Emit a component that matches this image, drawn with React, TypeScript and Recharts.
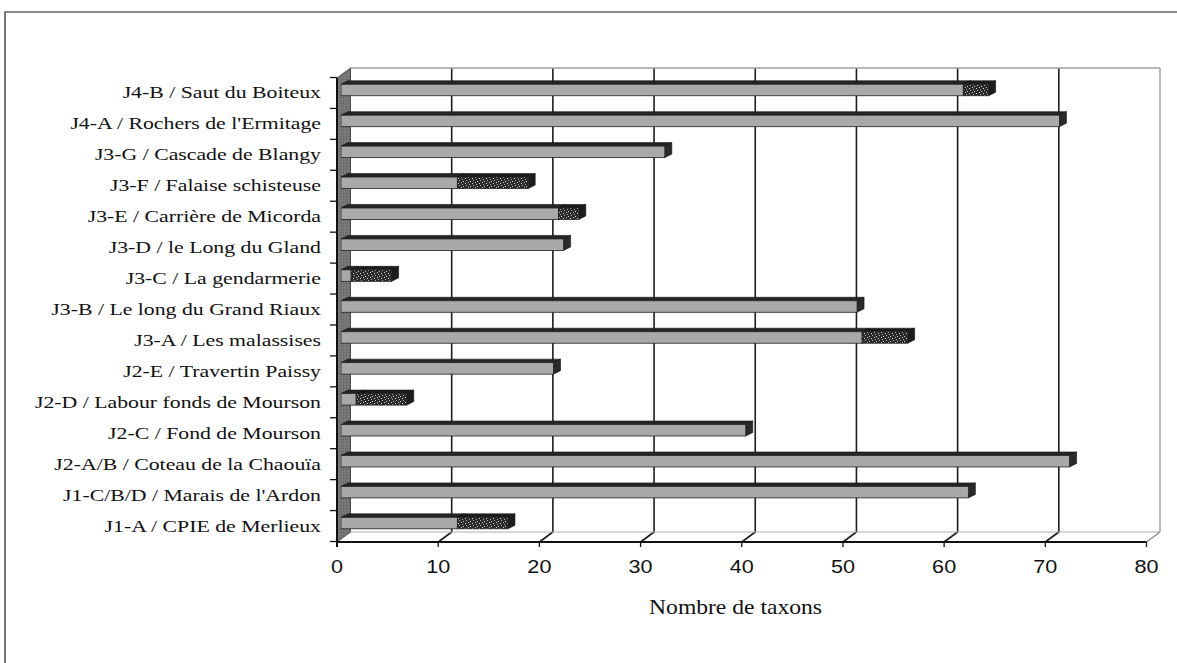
import React from 'react';
import { BarChart, Bar, XAxis, YAxis, CartesianGrid, ReferenceArea, Label } from 'recharts';

// ---------- data ----------
const CATEGORIES = [
  'J4-B / Saut du Boiteux',
  "J4-A / Rochers de l'Ermitage",
  'J3-G / Cascade de Blangy',
  'J3-F / Falaise schisteuse',
  'J3-E / Carrière de Micorda',
  'J3-D / le Long du Gland',
  'J3-C / La gendarmerie',
  'J3-B / Le long du Grand Riaux',
  'J3-A / Les malassises',
  'J2-E / Travertin Paissy',
  'J2-D / Labour fonds de Mourson',
  'J2-C / Fond de Mourson',
  'J2-A/B / Coteau de la Chaouïa',
  "J1-C/B/D / Marais de l'Ardon",
  'J1-A / CPIE de Merlieux',
];
const GREY_VALUES = [61.5, 71, 32, 11.5, 21.5, 22, 1, 51, 51.5, 21, 1.5, 40, 72, 62, 11.5];
const DARK_VALUES = [2.5, 0, 0, 7, 2, 0, 4, 0, 4.5, 0, 5, 0, 0, 0, 5];
const X_TICKS = [0, 10, 20, 30, 40, 50, 60, 70, 80];
const X_TITLE = 'Nombre de taxons';

const data = CATEGORIES.map((name, i) => ({ name, grey: GREY_VALUES[i], dark: DARK_VALUES[i] }));

// ---------- layout ----------
const W = 1177;
const H = 663;
const PLOT_TOP = 68;
const PLOT_LEFT = 337;
const PLOT_RIGHT = 1160;
const FLOOR_Y = 542;
const DEPTH_X = 13.5;
const DEPTH_Y = 10;
const BAND_TOP = 77.5;
const BAND_BOTTOM = 541.5;
const BAND = (BAND_BOTTOM - BAND_TOP) / CATEGORIES.length;
const BAR_DX = 7;
const BAR_DY = 3.5;
const FRONT_H = 11.5;

const SERIF = '"Liberation Serif", "Times New Roman", serif';
const SANS = '"Liberation Sans", Arial, sans-serif';

// ---------- shapes ----------
const makeBar3D = (front: string, top: string, side: string) => (props: any) => {
  const { x, y, width, height } = props;
  if (!width || width <= 0.1) return <g />;
  const cy = y + height / 2 - 3;
  const ft = cy - FRONT_H / 2;
  const fb = cy + FRONT_H / 2;
  const xe = x + width;
  return (
    <g>
      <polygon
        points={`${x},${ft} ${x + BAR_DX},${ft - BAR_DY} ${xe + BAR_DX},${ft - BAR_DY} ${xe},${ft}`}
        fill={top}
        stroke="#111"
        strokeWidth={0.6}
      />
      <polygon
        points={`${xe},${ft} ${xe + BAR_DX},${ft - BAR_DY} ${xe + BAR_DX},${fb - BAR_DY} ${xe},${fb}`}
        fill={side}
        stroke="#111"
        strokeWidth={0.6}
      />
      <rect x={x} y={ft} width={width} height={FRONT_H} fill={front} stroke="#222" strokeWidth={0.8} />
    </g>
  );
};

const GreyBar = makeBar3D('#a9a9a9', '#262626', '#2a2a2a');
const DarkBar = makeBar3D('url(#speckle)', '#1c1c1c', '#1c1c1c');

const Frame = (props: any) => {
  const { x, width } = props;
  if (x == null || width == null) return <g />;
  const fx0 = x;
  const fx1 = x + width;
  const bx0 = fx0 + DEPTH_X;
  const bx1 = fx1 + DEPTH_X;
  const by = FLOOR_Y - DEPTH_Y;
  return (
    <g>
      <line x1={bx0} y1={PLOT_TOP} x2={bx1} y2={PLOT_TOP} stroke="#a0a0a0" strokeWidth={1.5} />
      <line x1={bx1} y1={PLOT_TOP} x2={bx1} y2={by} stroke="#a0a0a0" strokeWidth={1.5} />
      <line x1={bx0} y1={by} x2={bx1} y2={by} stroke="#b0b0b0" strokeWidth={1.2} />
      <line x1={bx1} y1={by} x2={fx1} y2={FLOOR_Y} stroke="#888" strokeWidth={1.2} />
      <polygon
        points={`${fx0},${FLOOR_Y} ${fx0},${PLOT_TOP + DEPTH_Y} ${bx0},${PLOT_TOP} ${bx0},${by}`}
        fill="url(#wall)"
        stroke="#333"
        strokeWidth={0.8}
      />
      <line x1={fx0} y1={FLOOR_Y} x2={fx1} y2={FLOOR_Y} stroke="#111" strokeWidth={2} />
      <line x1={fx0} y1={PLOT_TOP + DEPTH_Y} x2={fx0} y2={FLOOR_Y + 5} stroke="#111" strokeWidth={2} />
    </g>
  );
};

const gridLine = (props: any) => {
  const { x1 } = props;
  if (x1 < PLOT_LEFT + DEPTH_X + 5 || x1 > PLOT_RIGHT - 5) return <g key={props.key} />;
  const by = FLOOR_Y - DEPTH_Y;
  return (
    <path
      key={props.key}
      d={`M${x1},${PLOT_TOP} L${x1},${by} L${x1 - DEPTH_X},${FLOOR_Y}`}
      stroke="#1e1e1e"
      strokeWidth={1.6}
      fill="none"
    />
  );
};

const XTick = (props: any) => {
  const { x, payload } = props;
  return (
    <g transform={`translate(${x},${FLOOR_Y + 31})`}>
      <text textAnchor="middle" transform="scale(1.2,1)" fontFamily={SANS} fontSize={18} fill="#111">
        {payload.value}
      </text>
    </g>
  );
};

const YTick = (props: any) => {
  const { y, payload, index } = props;
  const ax = PLOT_LEFT;
  return (
    <g>
      <line x1={ax - 7} y1={y - BAND / 2} x2={ax} y2={y - BAND / 2} stroke="#111" strokeWidth={1.3} />
      {index === CATEGORIES.length - 1 && (
        <line x1={ax - 7} y1={y + BAND / 2} x2={ax} y2={y + BAND / 2} stroke="#111" strokeWidth={1.3} />
      )}
      <g transform={`translate(${ax - 16},${y + 5.5})`}>
        <text textAnchor="end" transform="scale(1.32,1)" fontFamily={SERIF} fontSize={16.5} fill="#111">
          {payload.value}
        </text>
      </g>
    </g>
  );
};

const TitleContent = (props: any) => {
  const vb = props.viewBox || { x: PLOT_LEFT, y: FLOOR_Y, width: PLOT_RIGHT - PLOT_LEFT };
  const cx = vb.x + vb.width / 2 - 13;
  return (
    <g transform={`translate(${cx},${FLOOR_Y + 72})`}>
      <text textAnchor="middle" transform="scale(1.18,1)" fontFamily={SERIF} fontSize={20} fill="#111">
        {X_TITLE}
      </text>
    </g>
  );
};

export default function App() {
  return (
    <div style={{ position: 'relative', width: W, height: H, overflow: 'hidden', background: '#fff' }}>
      <style>{`body{margin:0;}`}</style>
      <div
        style={{
          position: 'absolute',
          left: 4,
          top: 11,
          width: 2000,
          height: 2000,
          borderLeft: '2px solid #777',
          borderTop: '2px solid #8a8a8a',
        }}
      />
      <div style={{ position: 'absolute', left: 0, top: 0 }}>
        <BarChart
          layout="vertical"
          width={W}
          height={H}
          data={data}
          margin={{ top: PLOT_TOP, right: W - PLOT_RIGHT, bottom: H - FLOOR_Y - 40, left: 0 }}
          barSize={15}
        >
          <defs>
            <pattern id="speckle" width="7" height="5" patternUnits="userSpaceOnUse">
              <rect width="7" height="5" fill="#2a2a2a" />
              <rect x="1" y="1" width="1" height="1" fill="#d8d8d8" />
              <rect x="4" y="0" width="1" height="1" fill="#bbbbbb" />
              <rect x="3" y="3" width="1" height="1" fill="#e0e0e0" />
              <rect x="6" y="2" width="1" height="1" fill="#c8c8c8" />
              <rect x="0" y="4" width="1" height="1" fill="#aaaaaa" />
            </pattern>
            <pattern id="wall" width="3" height="3" patternUnits="userSpaceOnUse">
              <rect width="3" height="3" fill="#777" />
              <rect x="1" y="1" width="1" height="1" fill="#5e5e5e" />
            </pattern>
          </defs>
          <CartesianGrid xAxisId="back" horizontal={false} vertical={gridLine} />
          <XAxis
            xAxisId="floor"
            type="number"
            domain={[0, 80]}
            allowDataOverflow
            ticks={X_TICKS}
            interval={0}
            padding={{ left: 0, right: DEPTH_X }}
            axisLine={false}
            tickLine={{ stroke: '#111', strokeWidth: 1.3 }}
            tickSize={5}
            tick={<XTick />}
            height={40}
          >
            <Label content={<TitleContent />} />
          </XAxis>
          <XAxis
            xAxisId="bar"
            type="number"
            domain={[0, 80]}
            allowDataOverflow
            ticks={X_TICKS}
            padding={{ left: 4, right: DEPTH_X - 4 }}
            height={0}
            hide
          />
          <XAxis
            xAxisId="back"
            type="number"
            domain={[0, 80]}
            allowDataOverflow
            ticks={X_TICKS}
            interval={0}
            padding={{ left: DEPTH_X, right: 0 }}
            height={0}
            hide
          />
          <YAxis
            type="category"
            dataKey="name"
            width={PLOT_LEFT}
            interval={0}
            axisLine={false}
            tickLine={false}
            tick={<YTick />}
            padding={{ top: BAND_TOP - PLOT_TOP, bottom: FLOOR_Y - BAND_BOTTOM }}
          />
          <ReferenceArea xAxisId="floor" x1={0} x2={80} shape={Frame} fill="none" ifOverflow="visible" />
          <Bar dataKey="grey" stackId="s" xAxisId="bar" shape={GreyBar} isAnimationActive={false} />
          <Bar dataKey="dark" stackId="s" xAxisId="bar" shape={DarkBar} isAnimationActive={false} />
        </BarChart>
      </div>
    </div>
  );
}
